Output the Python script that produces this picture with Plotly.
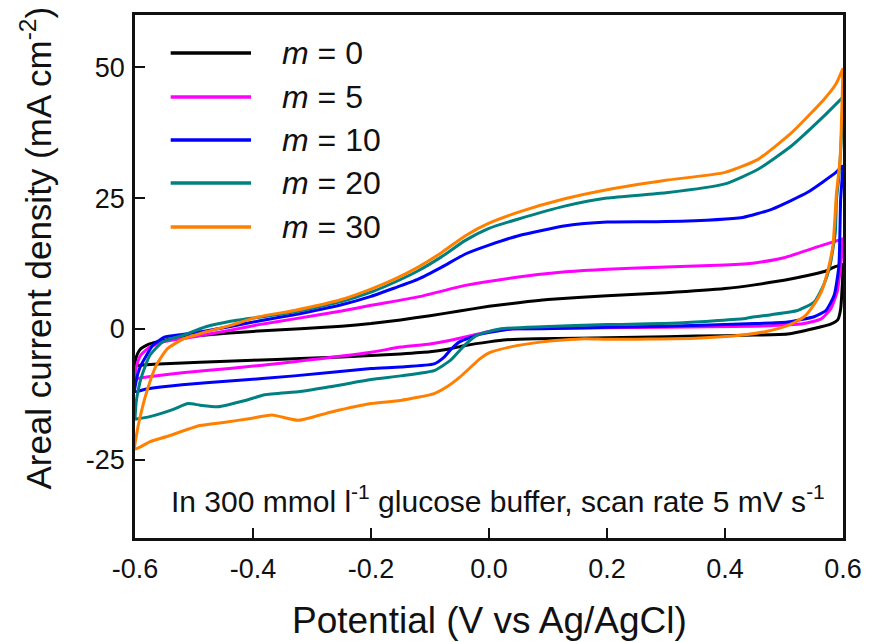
import plotly.graph_objects as go

# ---------------- data ----------------
labels = ["0", "5", "10", "20", "30"]
colors = ["#000000", "#FF00FF", "#0000FF", "#008080", "#FF8000"]

# m = 0
m0_fwd_v = [-0.6, -0.598, -0.595, -0.59, -0.58, -0.56, -0.53, -0.49, -0.44, -0.4, -0.32, -0.25, -0.2, -0.15, -0.1, -0.05, 0.0, 0.05, 0.1, 0.2, 0.3, 0.4, 0.45, 0.5, 0.54, 0.57, 0.585, 0.6]
m0_fwd_i = [-7.0, -5.5, -4.6, -3.8, -3.1, -2.4, -1.8, -1.3, -0.8, -0.5, 0.0, 0.5, 1.0, 1.7, 2.5, 3.4, 4.3, 5.0, 5.6, 6.3, 6.9, 7.7, 8.4, 9.3, 10.2, 11.0, 11.8, 12.3]
m0_rev_v = [0.6, 0.599, 0.596, 0.591, 0.579, 0.563, 0.506, 0.45, 0.35, 0.25, 0.15, 0.08, 0.03, 0.0, -0.04, -0.07, -0.1, -0.15, -0.2, -0.25, -0.32, -0.4, -0.49, -0.55, -0.586, -0.6]
m0_rev_i = [12.3, 9.0, 3.8, 1.7, 0.9, 0.4, -1.0, -1.2, -1.4, -1.6, -1.8, -1.9, -2.1, -2.5, -3.2, -3.9, -4.4, -4.8, -5.1, -5.4, -5.7, -6.0, -6.4, -6.7, -6.9, -7.0]

# m = 5
m5_fwd_v = [-0.6, -0.598, -0.595, -0.59, -0.575, -0.553, -0.52, -0.48, -0.44, -0.39, -0.33, -0.25, -0.2, -0.12, -0.04, 0.05, 0.13, 0.2, 0.3, 0.4, 0.45, 0.5, 0.563, 0.6]
m5_fwd_i = [-9.5, -7.5, -6.2, -5.0, -3.5, -2.5, -1.9, -1.1, -0.3, 0.8, 1.9, 3.4, 4.5, 6.1, 8.3, 9.9, 10.9, 11.4, 11.8, 12.2, 12.6, 13.6, 15.9, 17.2]
m5_rev_v = [0.6, 0.596, 0.59, 0.579, 0.563, 0.534, 0.478, 0.45, 0.3, 0.2, 0.05, 0.0, -0.03, -0.065, -0.1, -0.15, -0.2, -0.33, -0.44, -0.52, -0.58, -0.6]
m5_rev_i = [17.2, 12.0, 7.0, 3.8, 1.9, 1.0, 0.6, 0.5, 0.3, 0.2, 0.0, -0.5, -1.3, -2.2, -2.9, -3.5, -4.5, -6.3, -7.6, -8.4, -9.2, -9.5]

# m = 10
m10_fwd_v = [-0.6, -0.598, -0.595, -0.59, -0.57, -0.55, -0.52, -0.48, -0.44, -0.39, -0.33, -0.25, -0.2, -0.16, -0.12, -0.08, -0.04, 0.0, 0.05, 0.13, 0.2, 0.3, 0.43, 0.48, 0.54, 0.588, 0.6]
m10_fwd_i = [-12.0, -10.0, -8.5, -7.0, -3.2, -1.6, -1.1, -0.4, 0.4, 1.5, 2.7, 4.6, 6.2, 7.8, 9.5, 11.8, 14.3, 16.0, 17.8, 19.7, 20.4, 20.5, 21.3, 22.9, 26.1, 29.9, 31.2]
m10_rev_v = [0.6, 0.598, 0.596, 0.593, 0.585, 0.571, 0.551, 0.506, 0.45, 0.3, 0.2, 0.09, 0.04, -0.02, -0.05, -0.065, -0.076, -0.093, -0.15, -0.2, -0.33, -0.44, -0.52, -0.58, -0.6]
m10_rev_i = [31.2, 28.0, 24.8, 12.0, 6.4, 3.5, 2.3, 1.3, 1.0, 0.5, 0.3, 0.0, 0.0, -1.2, -2.5, -4.0, -5.4, -6.7, -7.3, -7.6, -9.0, -10.0, -10.7, -11.5, -12.0]

# m = 20
m20_fwd_v = [-0.6, -0.598, -0.595, -0.59, -0.575, -0.553, -0.52, -0.48, -0.44, -0.39, -0.33, -0.25, -0.2, -0.16, -0.12, -0.08, -0.04, 0.0, 0.05, 0.13, 0.2, 0.3, 0.4, 0.456, 0.513, 0.568, 0.6]
m20_fwd_i = [-17.2, -14.0, -12.0, -9.5, -5.1, -2.5, -1.3, 0.4, 1.4, 2.2, 3.2, 5.2, 7.0, 8.9, 11.1, 13.8, 16.9, 19.2, 21.0, 23.5, 25.0, 26.0, 27.7, 30.5, 35.0, 40.7, 44.3]
m20_rev_v = [0.6, 0.597, 0.593, 0.589, 0.587, 0.578, 0.567, 0.551, 0.523, 0.478, 0.45, 0.43, 0.32, 0.2, 0.09, 0.02, -0.02, -0.042, -0.065, -0.093, -0.15, -0.2, -0.27, -0.32, -0.38, -0.41, -0.46, -0.49, -0.51, -0.535, -0.575, -0.6]
m20_rev_i = [44.3, 36.0, 29.0, 24.8, 18.5, 12.1, 8.3, 5.1, 3.5, 2.7, 2.3, 1.9, 1.1, 0.8, 0.4, 0.0, -1.2, -3.2, -6.0, -8.0, -9.0, -9.7, -11.1, -12.0, -12.6, -13.6, -14.9, -14.6, -14.3, -15.4, -16.8, -17.3]

# m = 30
m30_fwd_v = [-0.6, -0.597, -0.592, -0.58, -0.564, -0.545, -0.517, -0.48, -0.44, -0.39, -0.33, -0.25, -0.2, -0.16, -0.12, -0.08, -0.04, 0.0, 0.05, 0.13, 0.2, 0.3, 0.4, 0.456, 0.513, 0.568, 0.588, 0.6]
m30_fwd_i = [-23.0, -20.0, -17.2, -12.0, -7.0, -3.8, -1.9, -0.6, 0.6, 2.3, 3.5, 5.6, 7.6, 9.5, 11.8, 14.6, 17.8, 20.2, 22.3, 24.9, 26.6, 28.4, 29.9, 32.4, 37.5, 43.9, 46.8, 49.8]
m30_rev_v = [0.6, 0.595, 0.589, 0.583, 0.574, 0.563, 0.55, 0.534, 0.506, 0.47, 0.43, 0.35, 0.2, 0.16, 0.09, 0.035, 0.0, -0.015, -0.049, -0.07, -0.093, -0.15, -0.2, -0.267, -0.323, -0.368, -0.407, -0.45, -0.49, -0.546, -0.575, -0.6]
m30_rev_i = [49.8, 32.4, 26.0, 16.0, 11.0, 7.0, 4.5, 2.3, 0.6, -0.5, -1.2, -1.8, -2.0, -1.9, -2.5, -3.5, -4.6, -5.7, -9.2, -11.0, -12.4, -13.7, -14.3, -15.9, -17.5, -16.5, -17.2, -17.9, -18.5, -20.6, -21.6, -23.0]

x_tickvals = [-0.6, -0.4, -0.2, 0.0, 0.2, 0.4, 0.6]
x_ticktext = ["-0.6", "-0.4", "-0.2", "0.0", "0.2", "0.4", "0.6"]
y_tickvals = [-25, 0, 25, 50]
y_ticktext = ["-25", "0", "25", "50"]

series = [
    (m0_fwd_v + m0_rev_v, m0_fwd_i + m0_rev_i),
    (m5_fwd_v + m5_rev_v, m5_fwd_i + m5_rev_i),
    (m10_fwd_v + m10_rev_v, m10_fwd_i + m10_rev_i),
    (m20_fwd_v + m20_rev_v, m20_fwd_i + m20_rev_i),
    (m30_fwd_v + m30_rev_v, m30_fwd_i + m30_rev_i),
]

FONT = "Liberation Sans, Arial, sans-serif"

fig = go.Figure()
for (v, i), lab, col in zip(series, labels, colors):
    fig.add_trace(go.Scatter(x=v, y=i, mode="lines", name="m = " + lab,
                             line=dict(color=col, width=3, shape="spline", smoothing=0.5),
                             showlegend=False))

# legend drawn manually (long line samples as in the reference)
leg_y = [0.9273, 0.8432, 0.7610, 0.6788, 0.5946]
for lab, col, yy in zip(labels, colors, leg_y):
    fig.add_shape(type="line", xref="paper", yref="paper",
                  x0=0.0504, x1=0.1639, y0=yy, y1=yy,
                  line=dict(color=col, width=3.5))
    fig.add_annotation(xref="paper", yref="paper", x=0.205, y=yy,
                       xanchor="left", yanchor="middle", showarrow=False,
                       text="<i>m</i> = " + lab,
                       font=dict(family=FONT, size=32, color="#111111"))

fig.add_annotation(xref="paper", yref="paper", x=0.978, y=0.075,
                   xanchor="right", yanchor="middle", showarrow=False,
                   text="In 300 mmol l<sup>-1</sup> glucose buffer, scan rate 5 mV s<sup>-1</sup>",
                   font=dict(family=FONT, size=30, color="#111111"))

fig.add_annotation(xref="paper", yref="paper", x=-0.14, y=0.555,
                   xanchor="center", yanchor="middle", showarrow=False,
                   textangle=-90,
                   text="Areal current density (mA cm<sup>-2</sup>)",
                   font=dict(family=FONT, size=35, color="#111111"))

fig.add_annotation(xref="paper", yref="paper", x=0.5, y=-0.157,
                   xanchor="center", yanchor="middle", showarrow=False,
                   text="Potential (V vs Ag/AgCl)",
                   font=dict(family=FONT, size=37, color="#111111"))

axis_common = dict(showline=True, linecolor="#111111", linewidth=2.5, mirror=True,
                   ticks="inside", ticklen=10, tickwidth=2, tickcolor="#111111",
                   showgrid=False, zeroline=False,
                   tickfont=dict(family=FONT, size=27, color="#111111"))

fig.update_xaxes(range=[-0.6, 0.6], tickvals=x_tickvals, ticktext=x_ticktext,
                 ticklabelstandoff=5, **axis_common)
fig.update_yaxes(range=[-40, 60], tickvals=y_tickvals, ticktext=y_ticktext,
                 ticklabelstandoff=2, **axis_common)

fig.update_layout(width=874, height=642,
                  margin=dict(l=135, r=25, t=15, b=104),
                  paper_bgcolor="white", plot_bgcolor="white",
                  font=dict(family=FONT))

fig.write_html("out.html")
